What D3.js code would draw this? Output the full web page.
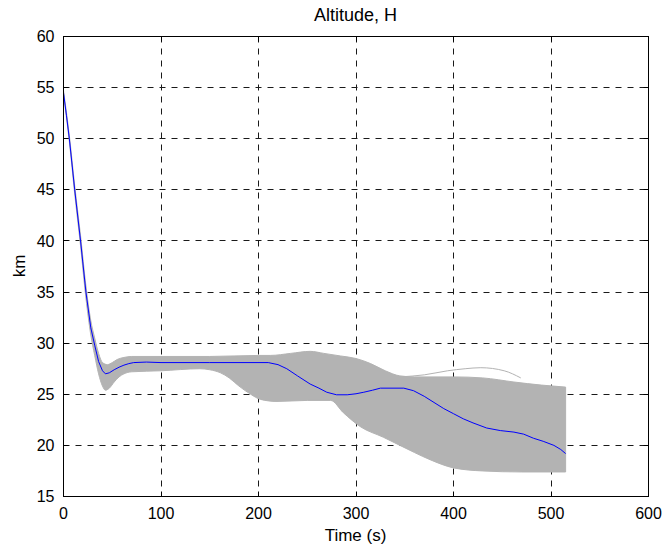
<!DOCTYPE html>
<html>
<head>
<meta charset="utf-8">
<script src="https://cdn.jsdelivr.net/npm/d3@7"></script>
<style>
  html, body { margin: 0; padding: 0; background: #fff; }
  svg text { font-family: "Liberation Sans", Arial, Helvetica, sans-serif; fill: #000; }
</style>
</head>
<body>
<div id="chart"></div>
<script>
// ── Data ──────────────────────────────────────────────────────────────────────
// Mean altitude trajectory (blue)
const meanT = [0, 3, 6, 11.5, 17.5, 23, 28, 32, 36, 40, 43, 47, 52, 57, 62, 67, 72, 85, 100,
  150, 210, 220, 229, 240, 253, 262, 270, 280, 291, 300, 308, 317, 325, 349, 359, 370, 380,
  390, 400, 410, 420, 434, 448, 462, 472, 482, 492, 503, 510, 515];
const meanH = [54.5, 52.3, 50, 45, 40, 35, 31.5, 29.8, 28.2, 27.3, 27.0, 27.1, 27.4, 27.65,
  27.85, 28.0, 28.1, 28.15, 28.1, 28.1, 28.1, 27.9, 27.5, 26.8, 26.0, 25.6, 25.2, 24.95,
  24.95, 25.05, 25.2, 25.4, 25.6, 25.6, 25.35, 24.8, 24.2, 23.6, 23.1, 22.6, 22.2, 21.7,
  21.45, 21.3, 21.1, 20.7, 20.4, 20.0, 19.6, 19.2];

// Upper edge of the Monte Carlo spread (gray)
const upperT = [0, 6, 11.5, 17.5, 23, 28, 32, 36, 40, 45, 50, 55, 62, 70, 100, 150, 200, 212,
  233, 253, 267, 284, 300, 315, 330, 345, 360, 400, 430, 462, 490, 515];
const upperH = [54.7, 50.3, 45.4, 40.5, 35.6, 32.2, 30.5, 29.0, 28.1, 27.9, 28.1, 28.4, 28.6,
  28.7, 28.7, 28.7, 28.8, 28.8, 29.0, 29.2, 29.0, 28.75, 28.5, 28.0, 27.3, 26.8, 26.7, 26.7,
  26.6, 26.2, 25.9, 25.7];

// Lower edge of the Monte Carlo spread (gray)
const lowerT = [0, 6, 11.5, 17.5, 23, 28, 32, 36, 40, 43, 47, 52, 57, 62, 70, 100, 140, 150,
  161, 170, 180, 192, 202, 219, 250, 274, 287, 305, 328, 345, 360, 376, 400, 430, 470, 515];
const lowerH = [54.3, 49.7, 44.6, 39.5, 34.4, 30.8, 28.8, 27.0, 25.8, 25.4, 25.6, 26.2, 26.7,
  27.0, 27.2, 27.3, 27.5, 27.4, 27.1, 26.6, 25.8, 25.0, 24.5, 24.3, 24.4, 24.4, 23.2, 21.8,
  20.8, 20.0, 19.3, 18.6, 17.8, 17.5, 17.4, 17.4];

// A stray run that peels off above the spread
const strayT = [345, 370, 394, 412, 428, 452, 469];
const strayH = [26.7, 26.9, 27.3, 27.5, 27.6, 27.3, 26.6];

const xTicks = [0, 100, 200, 300, 400, 500, 600];
const yTicks = [15, 20, 25, 30, 35, 40, 45, 50, 55, 60];

// ── Layout ───────────────────────────────────────────────────────────────────
const W = 666, H = 546;
const M = { top: 36, right: 18, bottom: 50, left: 63 };
const iw = W - M.left - M.right;
const ih = H - M.top - M.bottom;

const x = d3.scaleLinear().domain([0, 600]).range([0, iw]);
const y = d3.scaleLinear().domain([15, 60]).range([ih, 0]);

const svg = d3.select('#chart').append('svg').attr('width', W).attr('height', H);
const g = svg.append('g').attr('transform', `translate(${M.left + 0.5},${M.top + 0.5})`);

// ── Grid (dashed, behind the data) ───────────────────────────────────────────
const gridG = g.append('g').attr('stroke', '#1a1a1a').attr('stroke-width', 1)
  .attr('stroke-dasharray', '6,6');
xTicks.slice(1, -1).forEach(t => {
  gridG.append('line').attr('x1', Math.round(x(t))).attr('x2', Math.round(x(t)))
    .attr('y1', 0).attr('y2', ih);
});
yTicks.slice(1, -1).forEach(t => {
  gridG.append('line').attr('y1', Math.round(y(t))).attr('y2', Math.round(y(t)))
    .attr('x1', 0).attr('x2', iw);
});

// ── Spread band ──────────────────────────────────────────────────────────────
const pts = (ts, hs) => ts.map((t, i) => [t, hs[i]]);
const line = d3.line().x(d => x(d[0])).y(d => y(d[1])).curve(d3.curveMonotoneX);
const edge = d3.line().x(d => x(d[0])).y(d => y(d[1]));
const upper = pts(upperT, upperH);
const lower = pts(lowerT, lowerH);

// outline built from both edges, upper left→right then lower right→left
const bandPath = line(upper) + 'L' + line(lower.slice().reverse()).slice(1) + 'Z';
g.append('path').attr('d', bandPath)
  .attr('fill', '#b3b3b3').attr('stroke', '#b3b3b3').attr('stroke-width', 1)
  .attr('stroke-linejoin', 'round');

g.append('path').attr('d', line(pts(strayT, strayH)))
  .attr('fill', 'none').attr('stroke', '#b3b3b3').attr('stroke-width', 1);

// ── Mean trajectory ──────────────────────────────────────────────────────────
g.append('path').attr('d', edge(pts(meanT, meanH)))
  .attr('fill', 'none').attr('stroke', '#0000ff').attr('stroke-width', 1);

// ── Axes box + inward ticks ──────────────────────────────────────────────────
g.append('rect').attr('x', 0).attr('y', 0).attr('width', Math.round(iw)).attr('height', Math.round(ih))
  .attr('fill', 'none').attr('stroke', '#000').attr('stroke-width', 1);

const tickG = g.append('g').attr('stroke', '#000').attr('stroke-width', 1);
const TK = 5;
xTicks.forEach(t => {
  const xx = Math.round(x(t));
  tickG.append('line').attr('x1', xx).attr('x2', xx).attr('y1', Math.round(ih)).attr('y2', Math.round(ih) - TK);
  tickG.append('line').attr('x1', xx).attr('x2', xx).attr('y1', 0).attr('y2', TK);
});
yTicks.forEach(t => {
  const yy = Math.round(y(t));
  tickG.append('line').attr('y1', yy).attr('y2', yy).attr('x1', 0).attr('x2', TK);
  tickG.append('line').attr('y1', yy).attr('y2', yy).attr('x1', Math.round(iw)).attr('x2', Math.round(iw) - TK);
});

// ── Tick labels ──────────────────────────────────────────────────────────────
const FS = 16;
xTicks.forEach(t => {
  g.append('text').attr('x', x(t)).attr('y', ih + 22)
    .attr('text-anchor', 'middle').attr('font-size', FS).text(t);
});
yTicks.forEach(t => {
  g.append('text').attr('x', -9).attr('y', y(t)).attr('dy', '0.35em')
    .attr('text-anchor', 'end').attr('font-size', FS).text(t);
});

// ── Titles ───────────────────────────────────────────────────────────────────
svg.append('text').attr('x', M.left + iw / 2).attr('y', 21)
  .attr('text-anchor', 'middle').attr('font-size', 18).text('Altitude, H');
svg.append('text').attr('x', M.left + iw / 2).attr('y', 541)
  .attr('text-anchor', 'middle').attr('font-size', 17).text('Time (s)');
svg.append('text').attr('transform', `translate(25,${M.top + ih / 2}) rotate(-90)`)
  .attr('text-anchor', 'middle').attr('font-size', 17).text('km');
</script>
</body>
</html>
